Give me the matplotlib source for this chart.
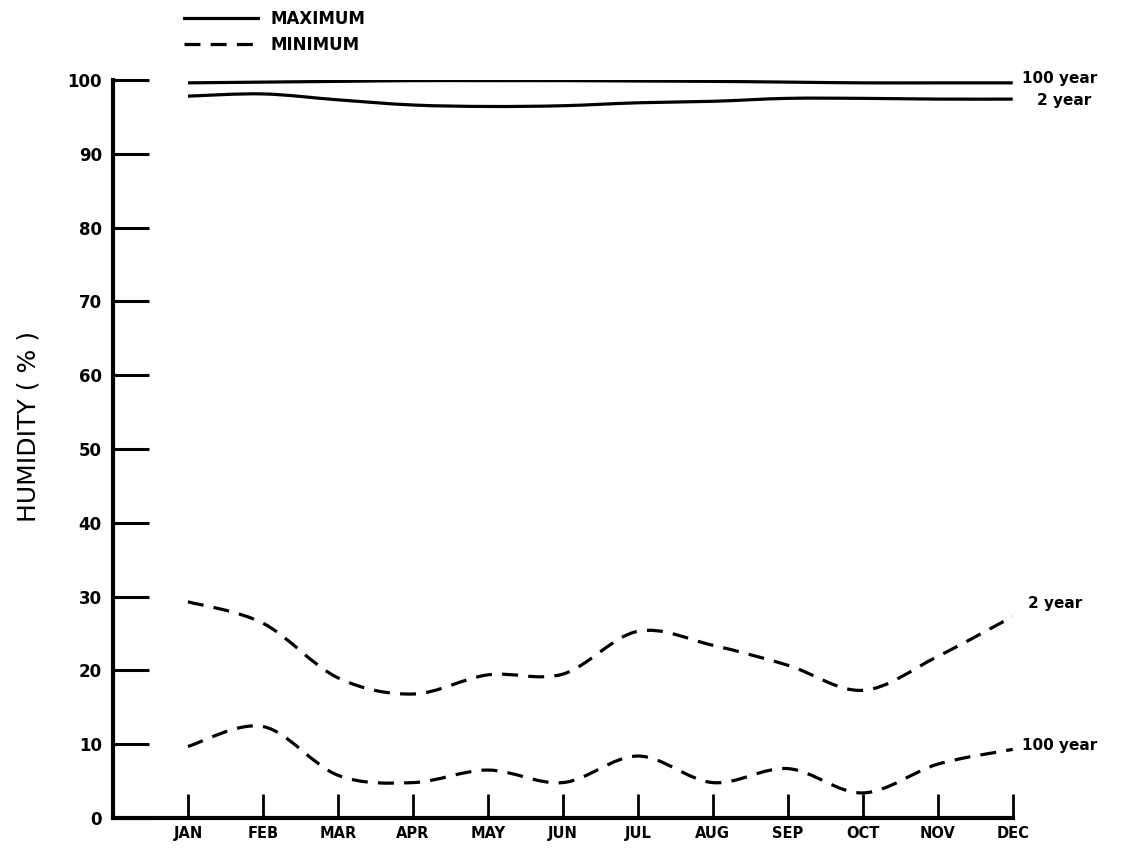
import numpy as np
import matplotlib
matplotlib.use("Agg")
import matplotlib.pyplot as plt
from matplotlib.path import Path
from matplotlib.patches import PathPatch
from matplotlib.lines import Line2D

months = ["JAN", "FEB", "MAR", "APR", "MAY", "JUN",
          "JUL", "AUG", "SEP", "OCT", "NOV", "DEC"]
month_pos = list(range(1, 13))

max_100yr = [99.6, 99.7, 99.8, 99.9, 99.9, 99.9, 99.85, 99.8, 99.7, 99.6, 99.6, 99.6]
max_2yr = [97.8, 98.1, 97.3, 96.6, 96.4, 96.5, 96.9, 97.1, 97.5, 97.5, 97.4, 97.4]
min_2yr = [29.3, 26.4, 19.0, 16.8, 19.4, 19.5, 25.3, 23.4, 20.7, 17.3, 21.9, 27.3]
min_100yr = [9.7, 12.4, 5.8, 4.8, 6.5, 4.8, 8.4, 4.8, 6.7, 3.4, 7.3, 9.3]

fig = plt.figure(figsize=(11.24, 8.5), dpi=100)
ax = fig.add_axes([0.1005, 0.0376, 0.8005, 0.8684])
ax.set_xlim(0, 12)
ax.set_ylim(0, 100)


def smooth_path(xs, ys):
    pts = np.column_stack([xs, ys]).astype(float)
    ext = np.vstack([pts[0], pts, pts[-1]])
    verts = [tuple(pts[0])]
    codes = [Path.MOVETO]
    for i in range(1, len(ext) - 2):
        p0, p1, p2, p3 = ext[i - 1], ext[i], ext[i + 1], ext[i + 2]
        c1 = p1 + (p2 - p0) / 6.0
        c2 = p2 - (p3 - p1) / 6.0
        verts += [tuple(c1), tuple(c2), tuple(p2)]
        codes += [Path.CURVE4] * 3
    return Path(verts, codes)


lw = 2.3
dash = (0, (5, 3.2))
for series, ls in [(max_100yr, "solid"), (max_2yr, "solid"),
                   (min_2yr, dash), (min_100yr, dash)]:
    patch = PathPatch(smooth_path(month_pos, series), fill=False,
                      edgecolor="black", linewidth=lw, linestyle=ls,
                      capstyle="butt", transform=ax.transData)
    ax.add_patch(patch)

for s in ["top", "right"]:
    ax.spines[s].set_visible(False)
for s in ["left", "bottom"]:
    ax.spines[s].set_linewidth(3.0)

ax.set_yticks(range(0, 101, 10))
ax.set_yticklabels([str(v) for v in range(0, 101, 10)],
                   fontsize=12, fontweight="bold")
ax.tick_params(axis="y", direction="in", length=26, width=2.2, pad=8)

ax.set_xticks(month_pos)
ax.set_xticklabels(months, fontsize=10.5, fontweight="bold")
ax.tick_params(axis="x", direction="in", length=17, width=2.0, pad=6)

ax.set_ylabel("HUMIDITY ( % )", fontsize=18)
ax.yaxis.set_label_coords(-0.08, 0.53)

# curve labels
ax.text(12.12, max_100yr[-1] + 0.6, "100 year", fontsize=11,
        fontweight="bold", ha="left", va="center")
ax.text(12.33, max_2yr[-1] - 0.2, "2 year", fontsize=11,
        fontweight="bold", ha="left", va="center")
ax.text(12.2, min_2yr[-1] + 1.8, "2 year", fontsize=11,
        fontweight="bold", ha="left", va="center")
ax.text(12.12, min_100yr[-1] + 0.5, "100 year", fontsize=11,
        fontweight="bold", ha="left", va="center")

handles = [Line2D([], [], color="black", lw=lw),
           Line2D([], [], color="black", lw=lw, ls=dash)]
fig.legend(handles, ["MAXIMUM", "MINIMUM"], loc="upper left",
           bbox_to_anchor=(0.155, 1.0), frameon=False,
           prop={"size": 12, "weight": "bold"}, handlelength=4.4,
           handletextpad=0.8, labelspacing=0.45, borderaxespad=0.2)

fig.savefig("out.png", dpi=100)
